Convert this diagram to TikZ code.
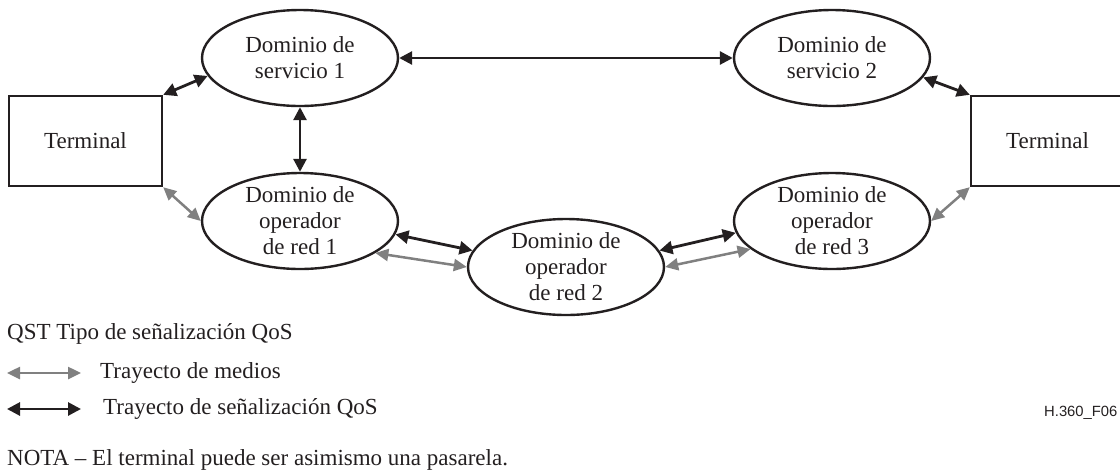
\documentclass[tikz,border=0pt]{standalone}
\usepackage{fontspec}
\setmainfont{Liberation Serif}
\newfontfamily\labelsans{Liberation Sans}
\usetikzlibrary{arrows.meta,shapes.geometric}
\definecolor{ink}{RGB}{35,31,32}
\definecolor{medgray}{RGB}{128,128,128}
\begin{document}
\begin{tikzpicture}[x=1pt,y=-1pt,
  every node/.style={font=\fontsize{23}{26}\selectfont},
  dom/.style={ellipse,draw=ink,line width=2.4pt,minimum width=196pt,minimum height=96pt,inner sep=0pt},
  txt/.style={align=center,inner sep=0pt,text=ink},
  term/.style={rectangle,draw=ink,line width=2.4pt,minimum width=153pt,minimum height=90pt,inner sep=0pt,text=ink},
  sig/.style={draw=ink,line width=2.8pt,{Triangle[length=13pt,width=13pt]}-{Triangle[length=13pt,width=13pt]}},
  med/.style={draw=medgray,line width=2.5pt,{Triangle[length=13pt,width=12pt]}-{Triangle[length=13pt,width=12pt]}},
  legtxt/.style={anchor=west,inner sep=0pt,text=ink}
]
\useasboundingbox (0,0) rectangle (1120,475);

\node[term] (tl) at (85.5,141) {Terminal};
\node[term] (tr) at (1047.5,141) {Terminal};

\node[dom,label={[txt]center:Dominio de\\servicio 1}] (s1) at (300,58) {};
\node[dom,label={[txt]center:Dominio de\\servicio 2}] (s2) at (832,58) {};
\node[dom,label={[txt]center:Dominio de\\operador\\de red 1}] (o1) at (300,221) {};
\node[dom,label={[txt]center:Dominio de\\operador\\de red 2}] (o2) at (566,267) {};
\node[dom,label={[txt]center:Dominio de\\operador\\de red 3}] (o3) at (832,221) {};

% signalling paths
\draw[sig] (tl.north east) -- (s1.191);
\draw[sig] (s1.south) -- (o1.north);
\draw[sig] (s1.east) -- (s2.west);
\draw[sig] (o1.352) -- (o2.170);
\draw[sig] (o2.10) -- (o3.187);
\draw[sig] (s2.348) -- (tr.north west);

% media paths
\draw[med] (tl.south east) -- (o1.west);
\draw[med] (o1.337) -- (o2.180);
\draw[med] (o2.0) -- (o3.199);
\draw[med] (o3.east) -- (tr.south west);

% legend
\node[legtxt] (qst) at (7,334) {QST Tipo de señalización QoS};
\coordinate (m1) at (7,373);
\coordinate (m2) at (81,373);
\draw[med] (m1) -- (m2);
\node[legtxt] (mt) at (100,373) {Trayecto de medios};
\coordinate (q1) at (7,409);
\coordinate (q2) at (81,409);
\draw[sig] (q1) -- (q2);
\node[legtxt] (qt) at (103,409) {Trayecto de señalización QoS};
\node[legtxt,font=\labelsans\fontsize{14.8}{17}\selectfont] (fig) at (1044,413) {H.360\_F06};
\node[legtxt] (nota) at (7,460) {NOTA – El terminal puede ser asimismo una pasarela.};
\end{tikzpicture}
\end{document}
